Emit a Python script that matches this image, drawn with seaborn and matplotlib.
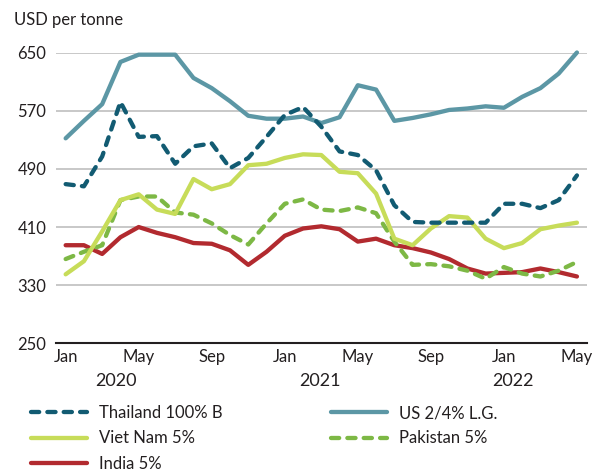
import numpy as np
import pandas as pd
import matplotlib
matplotlib.use("Agg")
import matplotlib.pyplot as plt
import seaborn as sns

# Monthly rice export prices, Jan 2020 - May 2022 (USD per tonne)
months = pd.date_range("2020-01-01", "2022-05-01", freq="MS")

thailand = [469, 466, 507, 582, 534, 535, 497, 521, 525, 491, 505, 534,
            564, 575, 548, 514, 509, 488, 440, 417, 416, 416, 416, 416,
            442, 442, 436, 447, 481]
us = [532, 556, 579, 637, 647, 647, 647, 615, 601, 583, 563, 559,
      559, 562, 553, 561, 605, 599, 556, 560, 565, 571, 573, 576,
      574, 589, 601, 621, 650]
vietnam = [345, 363, 404, 447, 455, 434, 428, 476, 462, 469, 495, 497,
           505, 510, 509, 486, 484, 456, 394, 385, 408, 425, 423, 394,
           381, 388, 407, 412, 416]
pakistan = [366, 376, 385, 447, 452, 452, 430, 427, 415, 399, 386, 415,
            442, 448, 434, 432, 437, 429, 390, 358, 359, 356, 350, 339,
            355, 346, 342, 350, 362]
india = [385, 385, 373, 396, 410, 402, 396, 388, 387, 378, 358, 376,
         398, 408, 411, 407, 390, 394, 385, 381, 375, 366, 353, 346,
         347, 348, 353, 348, 342]

month_labels = ["Jan", "May", "Sep", "Jan", "May", "Sep", "Jan", "May"]
year_labels = ["2020", "2021", "2022"]
y_ticks = [250, 330, 410, 490, 570, 650]

sns.set_theme(style="white")
plt.rcParams["font.family"] = ["Lato", "DejaVu Sans"]

fig = plt.figure(figsize=(6.0, 4.73), dpi=100)
ax = fig.add_axes([0.0933, 0.274, 0.885, 0.615])

x = np.arange(len(months))
df = pd.DataFrame({"x": x, "Thailand 100% B": thailand, "US 2/4% L.G.": us,
                   "Viet Nam 5%": vietnam, "Pakistan 5%": pakistan,
                   "India 5%": india})

series = [
    ("Thailand 100% B", "#125b72", True),
    ("Viet Nam 5%", "#c7dc59", False),
    ("India 5%", "#b22a2f", False),
    ("US 2/4% L.G.", "#5c97a5", False),
    ("Pakistan 5%", "#7db845", True),
]
# draw order: background lines first
draw_order = ["US 2/4% L.G.", "India 5%", "Pakistan 5%", "Viet Nam 5%", "Thailand 100% B"]
style = {name: (c, d) for name, c, d in series}
handles = {}
for name in draw_order:
    c, dashed = style[name]
    sns.lineplot(data=df, x="x", y=name, ax=ax, color=c, lw=3.1,
                 label=name, clip_on=False)
    ln = ax.get_lines()[-1]
    if dashed:
        ln.set_linestyle((0, (1.9, 1.9)))
        ln.set_dash_capstyle("round")
    handles[name] = ln

ax.set_xlim(-0.53, 28.55)
ax.set_ylim(250, 650)
ax.set_yticks(y_ticks)
ax.set_yticklabels([str(v) for v in y_ticks], fontsize=12, color="#231f20")
ax.yaxis.grid(True, color="#c8c8c8", lw=1.4)
ax.set_axisbelow(True)
ax.tick_params(axis="y", length=0, pad=7)

ax.set_xticks(x, minor=True)
ax.set_xticks(x[::4])
ax.set_xticklabels(month_labels, fontsize=12, color="#231f20")
ax.tick_params(axis="x", which="both", direction="in", length=6, width=1.5,
               color="#231f20", pad=4)
ax.set_xlabel("")
ax.set_ylabel("")

for s in ["top", "right", "left"]:
    ax.spines[s].set_visible(False)
ax.spines["bottom"].set_color("#231f20")
ax.spines["bottom"].set_linewidth(1.5)

for xp, lab in zip([2.75, 13.9, 24.5], year_labels):
    ax.text(xp, -0.13, lab, transform=ax.get_xaxis_transform(), ha="center",
            va="center", fontsize=13, color="#231f20")

fig.text(0.023, 0.958, "USD per tonne", fontsize=12, color="#231f20",
         ha="left", va="center")

ax.get_legend().remove()
order = ["Thailand 100% B", "Viet Nam 5%", "India 5%", "US 2/4% L.G.", "Pakistan 5%"]
fig.legend([handles[n] for n in order], order, ncol=2, loc="upper left",
           bbox_to_anchor=(0.037, 0.161), frameon=False, fontsize=12,
           handlelength=3.4, handletextpad=0.7, columnspacing=6.5,
           labelspacing=0.55, borderpad=0, labelcolor="#231f20")

fig.savefig("out.png", dpi=100)
